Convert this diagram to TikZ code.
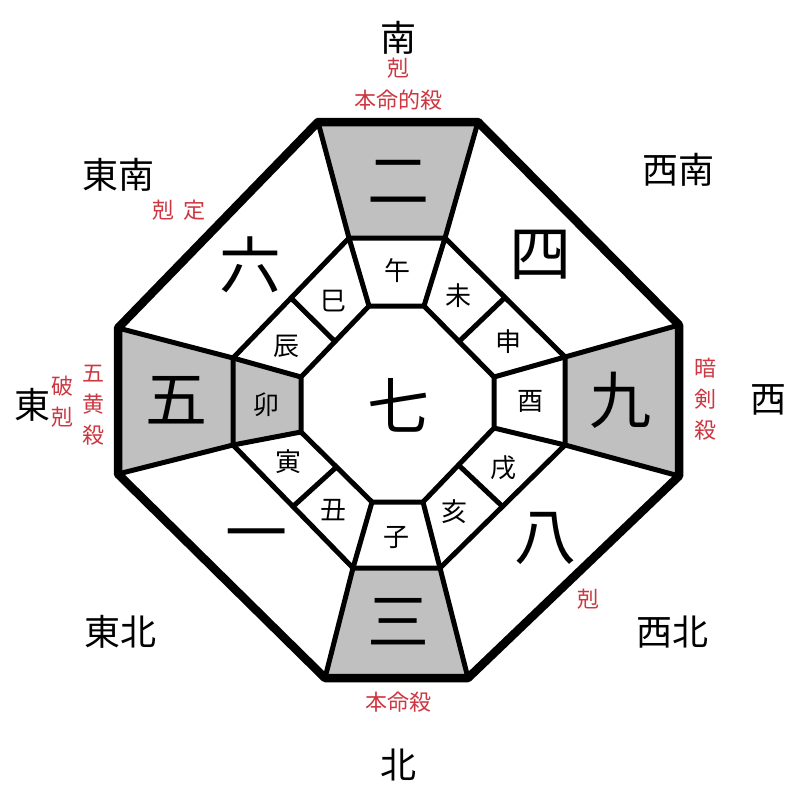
\documentclass[tikz,border=0pt]{standalone}
\usepackage{fontspec}
\usetikzlibrary{calc}
\setmainfont{Noto Sans CJK JP}
\definecolor{redc}{RGB}{205,55,65}
\definecolor{grayc}{RGB}{192,192,192}
\begin{document}
\begin{tikzpicture}[x=1pt,y=-1pt,
  big/.style={font=\fontsize{62}{62}\selectfont},
  br/.style={font=\fontsize{26}{26}\selectfont},
  dir/.style={font=\fontsize{36}{36}\selectfont},
  rl/.style={text=redc,font=\fontsize{22}{31}\selectfont,align=center},
  cell/.style={fill=grayc},
  thin/.style={line width=5pt,line join=round},
  thick/.style={line width=8.5pt,line join=round}]
\useasboundingbox (0,0) rectangle (800,800);
% outer
\coordinate (O1) at (318,122); \coordinate (O2) at (478,122);
\coordinate (O3) at (679,325); \coordinate (O4) at (679,476);
\coordinate (O5) at (468,678); \coordinate (O6) at (325,678);
\coordinate (O7) at (118,474); \coordinate (O8) at (118,328);
% middle
\coordinate (M1) at (349,238); \coordinate (M2) at (445,238);
\coordinate (M3) at (565,357); \coordinate (M4) at (565,445);
\coordinate (M5) at (440,568); \coordinate (M6) at (353,568);
\coordinate (M7) at (233,445); \coordinate (M8) at (233,358);
% inner
\coordinate (I1) at (369,306); \coordinate (I2) at (424,306);
\coordinate (I3) at (494,377); \coordinate (I4) at (494,428);
\coordinate (I5) at (423,502); \coordinate (I6) at (372,502);
\coordinate (I7) at (301,432); \coordinate (I8) at (301,377);
% fills
\fill[cell] (O1) -- (O2) -- (M2) -- (M1) -- cycle;
\fill[cell] (M6) -- (M5) -- (O5) -- (O6) -- cycle;
\fill[cell] (O8) -- (M8) -- (M7) -- (O7) -- cycle;
\fill[cell] (M3) -- (O3) -- (O4) -- (M4) -- cycle;
\fill[cell] (M8) -- (I8) -- (I7) -- (M7) -- cycle;
% lines
\draw[thin] (M1) -- (M2) -- (M3) -- (M4) -- (M5) -- (M6) -- (M7) -- (M8) -- cycle;
\draw[thin] (I1) -- (I2) -- (I3) -- (I4) -- (I5) -- (I6) -- (I7) -- (I8) -- cycle;
\foreach \i in {1,...,8}{
  \draw[thin] (O\i) -- (M\i);
  \draw[thin] (M\i) -- (I\i);
}
\draw[thin] ($(M2)!0.5!(M3)$) -- ($(I2)!0.5!(I3)$);
\draw[thin] ($(M4)!0.5!(M5)$) -- ($(I4)!0.5!(I5)$);
\draw[thin] ($(M6)!0.5!(M7)$) -- ($(I6)!0.5!(I7)$);
\draw[thin] ($(M8)!0.5!(M1)$) -- ($(I8)!0.5!(I1)$);
\draw[thick] (O1) -- (O2) -- (O3) -- (O4) -- (O5) -- (O6) -- (O7) -- (O8) -- cycle;
% big numbers
\node[big] (n2) at (398,182) {二};
\node[big] (n3) at (398,622) {三};
\node[big] (n5) at (176,400) {五};
\node[big] (n9) at (620,400) {九};
\node[big] (n6) at (250,265) {六};
\node[big] (n4) at (540,255) {四};
\node[big] (n8) at (545,538) {八};
\node[big] (n1) at (256,542) {一};
\node[big] (n7) at (398,405) {七};
% branches
\node[br] (b1) at (397,271) {午};
\node[br] (b2) at (333,301) {巳};
\node[br] (b3) at (286,346) {辰};
\node[br] (b4) at (266,405) {卯};
\node[br] (b5) at (288,462) {寅};
\node[br] (b6) at (333,510) {丑};
\node[br] (b7) at (396,537) {子};
\node[br] (b8) at (454,512) {亥};
\node[br] (b9) at (503,468) {戌};
\node[br] (b10) at (530,401) {酉};
\node[br] (b11) at (508,342) {申};
\node[br] (b12) at (458,296) {未};
% directions
\node[dir] (dS) at (398,38) {南};
\node[dir] (dN) at (398,765) {北};
\node[dir] (dE) at (32,405) {東};
\node[dir] (dW) at (768,400) {西};
\node[dir] (dSE) at (118,175) {東南};
\node[dir] (dSW) at (678,170) {西南};
\node[dir] (dNE) at (120,632) {東北};
\node[dir] (dNW) at (672,632) {西北};
% red labels
\node[rl] (r1) at (398,68) {剋};
\node[rl] (r2) at (398,100) {本命的殺};
\node[rl] (r3) at (179,210) {剋\hspace{0.4em}定};
\node[rl] (r4) at (398,702) {本命殺};
\node[rl] (r5) at (588,599) {剋};
\node[rl] (r6) at (62,402) {破\\剋};
\node[rl] (r7) at (93,405) {五\\黄\\殺};
\node[rl] (r8) at (705,399) {暗\\剣\\殺};
\end{tikzpicture}
\end{document}
